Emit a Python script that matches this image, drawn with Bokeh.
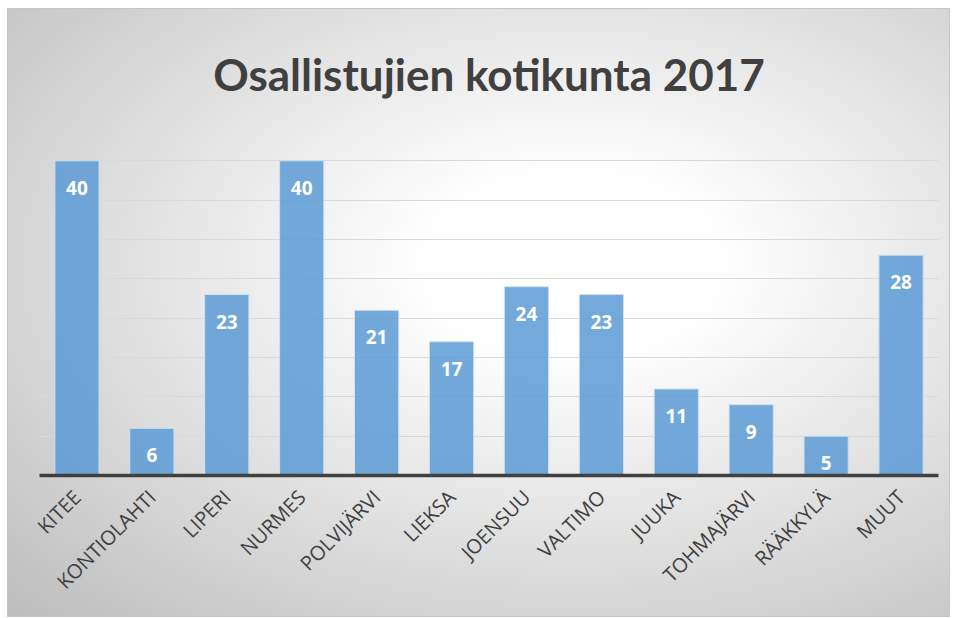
from bokeh.plotting import figure
from bokeh.models import ColumnDataSource, LabelSet, Range1d, FactorRange
from bokeh.core.properties import value
from bokeh.embed import file_html
from bokeh.resources import INLINE
import math

categories = ["KITEE", "KONTIOLAHTI", "LIPERI", "NURMES", "POLVIJÄRVI", "LIEKSA",
              "JOENSUU", "VALTIMO", "JUUKA", "TOHMAJÄRVI", "RÄÄKKYLÄ", "MUUT"]
values = [40, 6, 23, 40, 21, 17, 24, 23, 11, 9, 5, 28]
title_text = "Osallistujien kotikunta 2017"

src = ColumnDataSource(dict(cat=categories, val=values, lab=[str(v) for v in values]))

p = figure(x_range=FactorRange(*categories, range_padding=0), y_range=Range1d(0, 45),
           width=943, height=609, output_backend="svg", toolbar_location=None,
           min_border_left=31, min_border_right=13, min_border_top=112, min_border_bottom=143)

p.title.text = title_text
p.title.align = "center"
p.title.vertical_align = "middle"
p.title.text_baseline = "alphabetic"
p.title.text_font = "Lato"
p.title.text_font_size = "44px"
p.title.text_font_style = "bold"
p.title.text_color = "#404040"
p.title.standoff = 42

p.background_fill_alpha = 0
p.border_fill_alpha = 0
p.outline_line_color = None
p.styles = {
    "margin-left": "7px",
    "margin-top": "8px",
    "border": "1px solid #c6c6c6",
    "background": "radial-gradient(ellipse farthest-corner at 60% 42%, #ffffff 0%, #ffffff 18%, #bdbdbd 100%)",
}

p.vbar(x="cat", top="val", width=0.59, source=src, fill_color="#5b9bd5", fill_alpha=0.85,
       line_color="#cfe0f0", line_width=1)

labels = LabelSet(x="cat", y="val", text="lab", source=src, text_align="center",
                  text_baseline="middle", y_offset=-27, text_color="white",
                  text_font_size="19px", text_font_style="bold", text_font=value("Open Sans"))
p.add_layout(labels)

p.ygrid.grid_line_color = "#d9d9d9"
p.ygrid.grid_line_width = 1
p.xgrid.grid_line_color = None
p.yaxis.visible = False
p.yaxis.ticker = list(range(0, 50, 5))
p.ygrid.ticker = list(range(0, 50, 5))

ax = p.xaxis[0]
ax.axis_line_color = "#404040"
ax.axis_line_width = 3.5
ax.major_tick_line_color = None
ax.minor_tick_line_color = None
ax.major_label_orientation = math.pi / 4
ax.major_label_text_font = "Open Sans"
ax.major_label_text_font_size = "20px"
ax.major_label_text_color = "#404040"
ax.major_label_standoff = 12

open("out.html", "w").write(file_html(p, INLINE))
